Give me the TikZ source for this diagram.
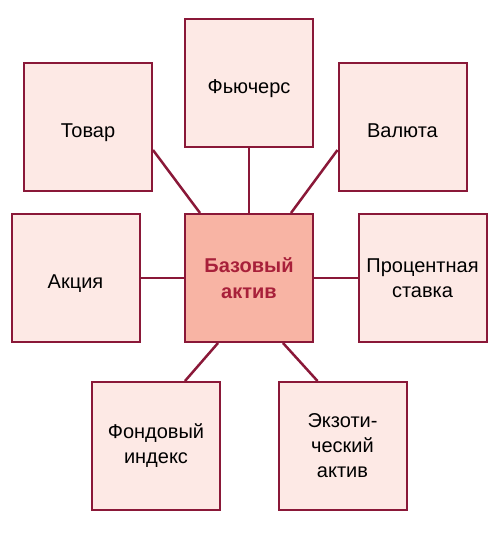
\documentclass[tikz,border=0pt]{standalone}
\usepackage{fontspec}
\setmainfont{Liberation Sans}
\usepackage{tikz}

\definecolor{boxline}{HTML}{8A1838}
\definecolor{boxfill}{HTML}{FDE9E5}
\definecolor{basefill}{HTML}{F8B4A4}
\definecolor{basetext}{HTML}{A8203A}

\tikzset{
	asset/.style={draw=boxline, line width=2pt, fill=boxfill, minimum width=128pt, minimum height=128pt, align=center, font=\fontsize{20}{25}\selectfont},
	oneline/.style={asset, text height=24pt, text depth=4pt},
	base/.style={asset, fill=basefill, text=basetext, font=\fontsize{20}{26}\selectfont\bfseries},
	link/.style={draw=boxline, line width=2.5pt}
}

\begin{document}
\begin{tikzpicture}[x=1pt,y=-1pt]

	\useasboundingbox (0,0) rectangle (501,539);

	\node[base] (base) at (249,278) {Базовый\\актив};

	\node[oneline] (futures) at (249,83) {Фьючерс};
	\node[oneline] (goods) at (88,127) {Товар};
	\node[oneline] (currency) at (402.5,127) {Валюта};
	\node[oneline] (stock) at (75.5,278) {Акция};
	\node[asset] (rate) at (422.5,278) {Процентная\\ставка};
	\node[asset] (index) at (156,446) {Фондовый\\индекс};
	\node[asset] (exotic) at (342.5,446) {Экзоти-\\ческий\\актив};

	\draw[link] (futures) -- (base);
	\draw[link] ([yshift=-23pt]goods.east) -- ([xshift=-49pt]base.north);
	\draw[link] ([yshift=-23pt]currency.west) -- ([xshift=42pt]base.north);
	\draw[link] (stock) -- (base);
	\draw[link] (rate) -- (base);
	\draw[link] ([xshift=-31pt]base.south) -- ([xshift=29pt]index.north);
	\draw[link] ([xshift=34pt]base.south) -- ([xshift=-25pt]exotic.north);

\end{tikzpicture}
\end{document}
